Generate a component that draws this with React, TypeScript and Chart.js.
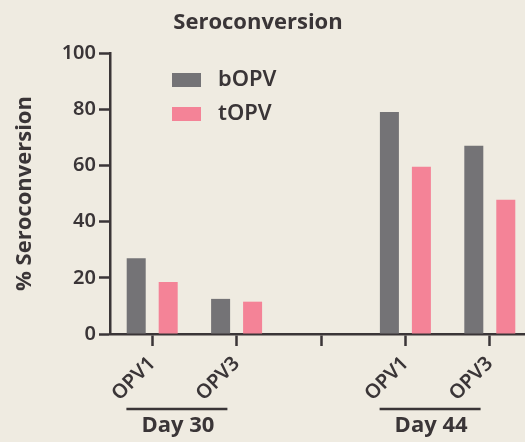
import React, { useEffect, useRef } from "react";
import { Chart, registerables } from "chart.js";

Chart.register(...registerables);

const categories = ["OPV1", "OPV3", "", "OPV1", "OPV3"];
const bOPV = [27, 12.5, null, 79, 67];
const tOPV = [18.5, 11.5, null, 59.5, 47.8];
const seriesNames = ["bOPV", "tOPV"];
const groupLabels = ["Day 30", "Day 44"];
const groupFirst = [0, 3];
const groupLast = [1, 4];
const yMin = 0;
const yMax = 100;
const yStep = 20;

const BG = "#efebe1";
const TXT = "#3a3537";
const GRAY = "#747376";
const PINK = "#f48397";
const FONT = "'Open Sans', 'Noto Sans', sans-serif";
const FONT_MED = "'Noto Sans', 'Open Sans', sans-serif";

const overlay = {
  id: "overlay",
  beforeDraw(chart: any) {
    const ctx = chart.ctx;
    ctx.save();
    ctx.fillStyle = BG;
    ctx.fillRect(0, 0, chart.width, chart.height);
    ctx.restore();
  },
  afterDraw(chart: any) {
    const ctx = chart.ctx;
    const xs = chart.scales.x;
    ctx.save();
    // title
    ctx.fillStyle = TXT;
    ctx.font = `bold 22px ${FONT}`;
    ctx.textAlign = "center";
    ctx.textBaseline = "middle";
    ctx.fillText("Seroconversion", 258, 23);
    // legend
    chart.data.datasets.forEach((ds: any, i: number) => {
      const y = 73 + i * 34;
      ctx.fillStyle = ds.backgroundColor;
      ctx.fillRect(172, y, 29, 14);
      ctx.fillStyle = TXT;
      ctx.font = `600 22px ${FONT_MED}`;
      ctx.textAlign = "left";
      ctx.textBaseline = "middle";
      ctx.fillText(ds.label, 218, y + 6.5);
    });
    // group labels
    groupLabels.forEach((g, i) => {
      const a = xs.getPixelForValue(groupFirst[i]);
      const b = xs.getPixelForValue(groupLast[i]);
      const c = (a + b) / 2 - 17.5;
      ctx.strokeStyle = TXT;
      ctx.lineWidth = 2.5;
      ctx.beginPath();
      ctx.moveTo(c - 50.5, 409);
      ctx.lineTo(c + 50.5, 409);
      ctx.stroke();
      ctx.fillStyle = TXT;
      ctx.font = `bold 22px ${FONT}`;
      ctx.textAlign = "center";
      ctx.textBaseline = "middle";
      ctx.fillText(g, c + 1, 426);
    });
    ctx.restore();
  },
};

export default function App() {
  const ref = useRef<HTMLCanvasElement>(null);
  useEffect(() => {
    if (!ref.current) return;
    const chart = new Chart(ref.current, {
      type: "bar",
      data: {
        labels: categories,
        datasets: [
          { label: seriesNames[0], data: bOPV, backgroundColor: GRAY, barPercentage: 0.594, categoryPercentage: 0.758 },
          { label: seriesNames[1], data: tOPV, backgroundColor: PINK, barPercentage: 0.594, categoryPercentage: 0.758 },
        ],
      },
      options: {
        responsive: false,
        animation: false,
        devicePixelRatio: 1,
        layout: { padding: { top: 53, right: 4, left: 0, bottom: 0 } },
        plugins: { legend: { display: false }, title: { display: false }, tooltip: { enabled: false } },
        scales: {
          x: {
            type: "category",
            offset: true,
            grid: { offset: false, drawOnChartArea: false, drawTicks: true, tickLength: 12, tickColor: TXT, tickWidth: 2.5 },
            border: { display: true, color: TXT, width: 2.5 },
            ticks: { autoSkip: false, minRotation: 45, maxRotation: 45, color: TXT, font: { family: FONT_MED, size: 20, weight: 600 }, padding: 6 },
            afterFit(s: any) { s.height = 108; },
          },
          y: {
            min: yMin,
            max: yMax,
            ticks: { stepSize: yStep, color: TXT, font: { family: FONT_MED, size: 20, weight: 600 }, padding: 3 },
            grid: { drawOnChartArea: false, drawTicks: true, tickLength: 11, tickColor: TXT, tickWidth: 2.5 },
            border: { display: true, color: TXT, width: 2.5 },
            title: { display: true, text: "% Seroconversion", color: TXT, font: { family: FONT, size: 22, weight: "bold" }, padding: { top: 12, bottom: 0 } },
            afterFit(s: any) { s.width = 110; },
          },
        },
      },
      plugins: [overlay],
    } as any);
    return () => chart.destroy();
  }, []);
  return (
    <div style={{ position: "fixed", left: 0, top: 0, width: 525, height: 442, overflow: "hidden", background: BG }}>
      <canvas ref={ref} width={536} height={442} style={{ display: "block", width: 536, height: 442 }} />
    </div>
  );
}
